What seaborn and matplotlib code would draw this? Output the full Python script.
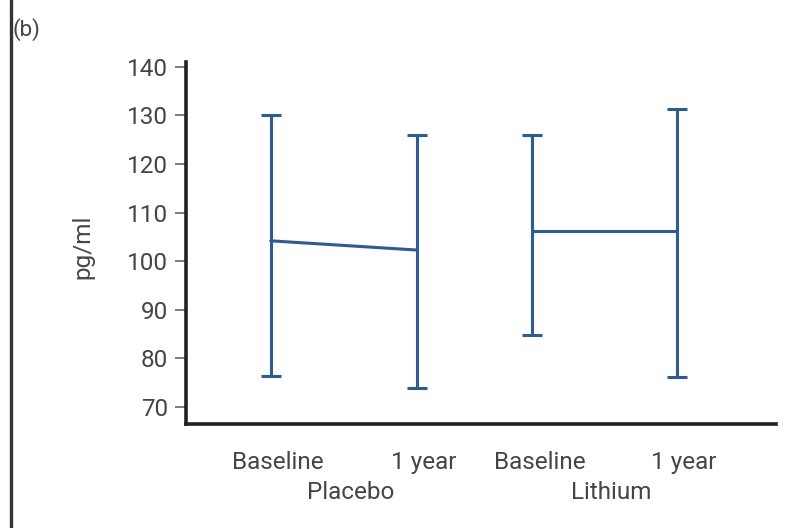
import matplotlib
matplotlib.use("Agg")
import matplotlib.pyplot as plt
import seaborn as sns
import pandas as pd
import numpy as np
from matplotlib.lines import Line2D

groups = ["Placebo", "Placebo", "Lithium", "Lithium"]
timepoints = ["Baseline", "1 year", "Baseline", "1 year"]
means = [104.2, 102.3, 106.2, 106.2]
lows = [76.4, 73.9, 84.8, 76.2]
highs = [130.0, 126.0, 126.0, 131.3]
yticks = [70, 80, 90, 100, 110, 120, 130, 140]

xpos = [1.0, 2.0, 2.79, 3.78]
df = pd.DataFrame({"group": groups, "time": timepoints, "mean": means,
                   "low": lows, "high": highs, "x": xpos})

sns.set_style("white")
plt.rcParams['font.family'] = ['Roboto', 'DejaVu Sans']
FS = 17.5
TC = "#454545"
FW = "normal"

color = "#2b5b98"
fig = plt.figure(figsize=(7.9, 5.28), dpi=100)
ax = fig.add_axes([186/790, 1-424/528, (776-186)/790, (424-62)/528])

sns.lineplot(data=df, x="x", y="mean", units="group", estimator=None,
             color=color, lw=2.2, ax=ax, legend=False)
ax.errorbar(df["x"], df["mean"],
            yerr=[df["mean"] - df["low"], df["high"] - df["mean"]],
            fmt="none", ecolor=color, elinewidth=2.2, capsize=7, capthick=2.2)

ax.set_xlim(0.42, 4.46)
ax.set_ylim(66.5, 141.0)
ax.set_yticks(yticks)
ax.set_yticklabels([str(t) for t in yticks], fontsize=FS, color=TC, fontweight=FW)
ax.set_xticks([])
ax.set_xlabel("")
ax.set_ylabel("pg/ml", fontsize=FS, color=TC, fontweight=FW)
ax.yaxis.set_label_coords(-0.155, 0.49)
ax.tick_params(axis="y", direction="out", length=8, width=1.2, color="#666666", pad=5, left=True)
for s in ["top", "right"]:
    ax.spines[s].set_visible(False)
for s in ["left", "bottom"]:
    ax.spines[s].set_linewidth(2.6)
    ax.spines[s].set_color("#222222")

# category labels
for xv, t in zip(xpos, timepoints):
    ax.text(xv + 0.05, -0.105, t, transform=ax.get_xaxis_transform(),
            ha="center", va="center", fontsize=FS, color=TC, fontweight=FW)
for g in ["Placebo", "Lithium"]:
    xs = df.loc[df["group"] == g, "x"]
    ax.text(xs.mean() + 0.05, -0.19, g, transform=ax.get_xaxis_transform(),
            ha="center", va="center", fontsize=FS, color=TC, fontweight=FW)

fig.text(12/790, 1-30/528, "(b)", fontsize=16, color=TC, ha="left", va="center", fontweight=FW)
fig.add_artist(Line2D([10.5/790, 10.5/790], [0, 1], transform=fig.transFigure,
                      color="#333333", lw=2.4))

fig.savefig("out.png", dpi=100)
